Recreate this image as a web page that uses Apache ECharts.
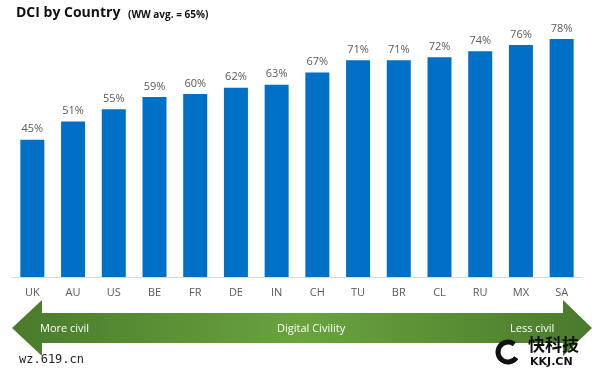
<!DOCTYPE html>
<html>
<head>
<meta charset="utf-8">
<script src="https://cdn.jsdelivr.net/npm/echarts@6/dist/echarts.min.js"></script>
<style>
  html, body { margin: 0; padding: 0; background: #fff; }
  #dci-chart { width: 600px; height: 376px; }
</style>
</head>
<body>
<div id="dci-chart"></div>
<script>
// 国家与 DCI 数值
var countries = ["UK", "AU", "US", "BE", "FR", "DE", "IN", "CH", "TU", "BR", "CL", "RU", "MX", "SA"];
var dciValues = [45, 51, 55, 59, 60, 62, 63, 67, 71, 71, 72, 74, 76, 78];

var chart = echarts.init(document.getElementById("dci-chart"));

var arrowGreen = new echarts.graphic.LinearGradient(0, 0, 1, 0, [
  { offset: 0, color: "#4a7a2c" },
  { offset: 0.5, color: "#6aa33e" },
  { offset: 1, color: "#4a7a2c" },
]);

var option = {
  animation: false,
  grid: {
    left: 12,
    right: 18,
    top: 39,
    bottom: 99,
    containLabel: false,
  },
  xAxis: {
    type: "category",
    data: countries,
    axisLine: {
      lineStyle: { color: "#d9d9d9", width: 1 },
    },
    axisTick: { show: false },
    axisLabel: {
      color: "#595959",
      fontSize: 11,
      fontFamily: "Open Sans",
      margin: 10,
    },
  },
  yAxis: {
    type: "value",
    min: 0,
    max: 78,
    show: false,
    splitLine: { show: false },
  },
  series: [
    {
      type: "bar",
      data: dciValues,
      barWidth: 24,
      itemStyle: { color: "#0070c6" },
      label: {
        show: true,
        position: "top",
        formatter: "{c}%",
        color: "#595959",
        fontSize: 11,
        fontFamily: "Open Sans",
        distance: 5,
      },
    },
  ],
  graphic: [
    {
      type: "text",
      left: 16,
      top: 6,
      style: {
        text: "DCI by Country",
        font: "bold 14px 'Open Sans'",
        fill: "#111",
      },
    },
    {
      type: "text",
      left: 128,
      top: 10,
      style: {
        text: "(WW avg. = 65%)",
        font: "bold 10px 'Open Sans'",
        fill: "#111",
      },
    },
    // 底部双向箭头
    {
      type: "polygon",
      shape: {
        points: [
          [12, 328], [42, 300], [42, 313], [563, 313], [563, 300],
          [592, 328], [563, 356], [563, 343], [42, 343], [42, 356],
        ],
      },
      style: { fill: arrowGreen },
    },
    {
      type: "text",
      left: 40,
      top: 323,
      style: { text: "More civil", font: "11px 'Open Sans'", fill: "#fff" },
    },
    {
      type: "text",
      left: 277,
      top: 323,
      style: { text: "Digital Civility", font: "11px 'Open Sans'", fill: "#fff" },
    },
    {
      type: "text",
      left: 510,
      top: 323,
      style: { text: "Less civil", font: "11px 'Open Sans'", fill: "#fff" },
    },
    // 水印
    {
      type: "text",
      left: 19,
      top: 354,
      style: { text: "wz.619.cn", font: "12px 'DejaVu Sans Mono'", fill: "#222" },
    },
    {
      type: "text",
      left: 528,
      top: 336,
      style: { text: "快科技", font: "bold 17px 'Noto Sans CJK SC'", fill: "#111" },
    },
    {
      type: "text",
      left: 530,
      top: 357,
      style: { text: "KKJ.CN", font: "bold 11px 'DejaVu Sans'", fill: "#111" },
    },
    {
      type: "arc",
      shape: { cx: 508, cy: 352, r: 10, startAngle: 0.6, endAngle: 5.4 },
      style: { fill: "none", stroke: "#111", lineWidth: 5 },
    },
  ],
};

chart.setOption(option);
</script>
</body>
</html>
